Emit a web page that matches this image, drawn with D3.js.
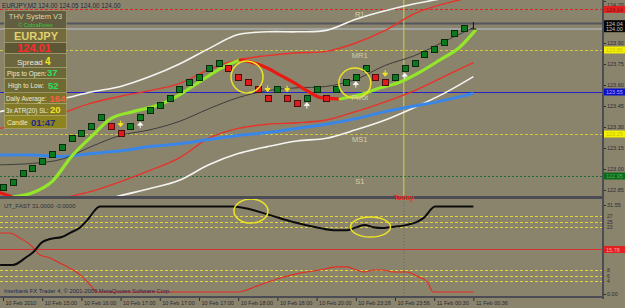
<!DOCTYPE html>
<html>
<head>
<meta charset="utf-8" />
<title>EURJPY,M2</title>
<style>
html, body {
    margin: 0;
    padding: 0;
    background: #8a846c;
}
#chart {
    width: 625px;
    height: 308px;
}
</style>
</head>
<body>
<div id="chart"></div>
<script src="https://d3js.org/d3.v7.min.js"></script>
<script>
// M2 candles shown as boxes: close price per bar, 1 = up (green), 0 = down (red)
var boxPrice = [122.87, 122.91, 122.97, 123.01, 123.06, 123.11, 123.16, 123.22, 123.26, 123.31,
                123.37, 123.31, 123.26, 123.31, 123.37, 123.42, 123.46, 123.51, 123.57, 123.62,
                123.66, 123.72, 123.76, 123.72, 123.66, 123.62, 123.57, 123.51, 123.57, 123.51,
                123.47, 123.51, 123.57, 123.51, 123.57, 123.62, 123.66, 123.72, 123.66, 123.62,
                123.66, 123.72, 123.76, 123.82, 123.86, 123.91, 123.97, 124.01]
var boxUp = [1,1,1,1,1,1,1,1,1,1, 1,0,0,1,1,1,1,1,1,1, 1,1,1,0,0,0,0,0,1,0,
             0,1,1,0,1,1,1,1,0,0, 1,1,1,1,1,1,1,1]
var downArrowBars = [12, 27, 29, 39]
var upArrowBars = [14, 31, 36, 41]

// bands and averages, sampled every 3 bars
var lineBars   = [-0.3, 3, 6, 9, 12, 15, 18, 21, 24, 27, 30, 33, 36, 39, 42, 45, 48]
var upperWhite = [123.41, 123.46, 123.50, 123.55, 123.59, 123.66, 123.75, 123.86, 123.96, 123.98, 123.98, 123.99, 124.07, 124.13, 124.18, 124.22, 124.26]
var upperRed   = [123.29, 123.34, 123.40, 123.47, 123.52, 123.56, 123.61, 123.71, 123.78, 123.81, 123.83, 123.84, 123.90, 123.99, 124.11, 124.18, 124.23]
var maLine     = [123.03, 123.04, 123.07, 123.16, 123.24, 123.28, 123.34, 123.43, 123.51, 123.56, 123.58, 123.59, 123.64, 123.74, 123.81, 123.91, 124.01]
var blueLine   = [123.10, 123.10, 123.09, 123.11, 123.13, 123.16, 123.18, 123.21, 123.24, 123.26, 123.29, 123.32, 123.36, 123.41, 123.45, 123.49, 123.54]
var lowerRed   = [122.67, 122.74, 122.79, 122.84, 122.91, 122.99, 123.08, 123.22, 123.29, 123.32, 123.33, 123.35, 123.41, 123.48, 123.56, 123.66, 123.76]
var lowerWhite = [122.49, 122.58, 122.66, 122.75, 122.81, 122.86, 122.92, 123.03, 123.11, 123.16, 123.20, 123.22, 123.28, 123.35, 123.44, 123.54, 123.66]

// signal line, green when rising and red when falling
var sigBars  = [-0.3, 1, 3, 5, 7, 9, 11, 13.3, 16, 18, 20, 22, 24.2, 25.5, 27, 28.3, 29.6, 31, 32.4, 34.4, 36.4, 38.5, 40.5, 42.5, 44.6, 46.6, 48.2]
var sigPrice = [122.83, 122.80, 122.83, 122.91, 123.09, 123.23, 123.36, 123.41, 123.46, 123.53, 123.62, 123.71, 123.78, 123.76, 123.72, 123.67, 123.62, 123.56, 123.51, 123.50, 123.53, 123.58, 123.62, 123.69, 123.78, 123.87, 123.99]

// pivot levels
var pivotNames  = ["R1", "MR1", "Pivot", "MS1", "S1"]
var pivotPrices = [124.14, 123.85, 123.55, 123.25, 122.95]
var askBid = [124.04, 124.00]
var lastCandle = [124.00, 124.05, 124.00, 124.00] // open high low close
var priceTicks = [124.20, 124.05, 123.90, 123.75, 123.60, 123.45, 123.30, 123.15, 123.00, 122.85]
var todayBar = 40.9

// UT_FAST sub window
var utBars = [-0.3, 1, 2.4, 3.1, 4, 4.8, 6, 6.8, 7.9, 8.6, 9.9, 23.5, 24.9, 27.2, 29.6, 32.3, 33.7, 35.1, 36.1, 36.9, 37.8, 38.7, 39.5, 41.2, 42.2, 42.9, 44.1, 48]
var utFast = [10.3, 10.3, 13.1, 14.9, 18.4, 19.5, 20.2, 21.6, 23.7, 26.2, 31, 31, 30.3, 28, 25.5, 23.4, 22.6, 22.6, 23.7, 24.5, 23.7, 23.4, 23.7, 24.5, 25.5, 26.9, 31, 31]
var utSlowBars = [-0.3, 0.7, 1.7, 2.8, 3.8, 4.8, 5.8, 6.8, 7.9, 8.9, 9.6, 23.9, 26.2, 28.3, 30.3, 32.3, 34.1, 35.1, 36.1, 36.9, 37.8, 38.8, 39.8, 41.2, 42.2, 43.3, 43.9, 48]
var utSlow = [21.6, 21.6, 19.9, 17.4, 13.8, 12.8, 11.0, 9.2, 6.7, 3.2, 0.7, 0.7, 3.2, 5.7, 7.4, 8.5, 9.6, 9.6, 8.5, 7.8, 8.5, 8.5, 7.8, 7.8, 6.4, 4.3, 0.7, 0.7]
var utLevels = [27.5, 25.5, 23.75, 8.5, 6.5, 4.5]
var utLevelLabels = ["27", "25", "23", "8", "6", "4"]
var utMid = 15.78
var utMax = 31.55

// time axis
var timeBars = [0, 4, 8, 12, 16, 20, 24, 28, 32, 36, 40, 44, 48]
var timeLabels = ["10 Feb 2010", "10 Feb 15:00", "10 Feb 16:00", "10 Feb 17:00", "10 Feb 17:00", "10 Feb 17:00",
                  "10 Feb 18:00", "10 Feb 18:00", "10 Feb 20:00", "10 Feb 23:28", "10 Feb 23:56", "11 Feb 00:30", "11 Feb 00:36"]

// info box
var infoNames  = ["Spread", "Pips to Open:", "High to Low:", "Daily Average:", "3x ATR(20) SL:", "Candle"]
var infoValues = ["4", "37", "52", "164", "20", "01:47"]
var symbol = "EURJPY"
var bidPrice = "124.01"

!(function(){
    "use strict"

    var FONT = "'Liberation Sans', Arial, sans-serif"
    var width = 625, height = 308
    var svg = d3.select("#chart").append("svg")
        .attr("width", width).attr("height", height)
        .style("font-family", FONT)

    var x = d3.scaleLinear().domain([0, 47]).range([3, 463.6])
    var y = d3.scaleLinear().domain([122.85, 123.90]).range([190, 43])
    var yInd = d3.scaleLinear().domain([0, utMax]).range([294, 205])

    svg.append("rect").attr("width", width).attr("height", height).attr("fill", "#8a846c")

    var defs = svg.append("defs")
    defs.append("clipPath").attr("id", "clipMain").append("rect")
        .attr("x", 0).attr("y", 0).attr("width", 602).attr("height", 196)
    defs.append("clipPath").attr("id", "clipSub").append("rect")
        .attr("x", 0).attr("y", 199).attr("width", 602).attr("height", 97)

    var main = svg.append("g").attr("clip-path", "url(#clipMain)")
    var sub = svg.append("g").attr("clip-path", "url(#clipSub)")

    // pivot and price lines
    var pivotStyle = [
        {stroke: "#e02424", dash: "3,2", w: 1},
        {stroke: "#d4c83c", dash: "3,2", w: 1},
        {stroke: "#2424c8", dash: null, w: 1},
        {stroke: "#d4c83c", dash: "3,2", w: 1},
        {stroke: "#1a6a3a", dash: "2,2", w: 1}
    ]
    pivotPrices.forEach(function(p, i) {
        main.append("line")
            .attr("x1", 0).attr("x2", 602)
            .attr("y1", Math.round(y(p)) + 0.5).attr("y2", Math.round(y(p)) + 0.5)
            .attr("stroke", pivotStyle[i].stroke)
            .attr("stroke-width", pivotStyle[i].w)
            .attr("stroke-dasharray", pivotStyle[i].dash)
    })
    main.append("line")
        .attr("x1", 0).attr("x2", 602)
        .attr("y1", y(askBid[0])).attr("y2", y(askBid[0]))
        .attr("stroke", "#55555e").attr("stroke-width", 2)
    main.append("line")
        .attr("x1", 0).attr("x2", 602)
        .attr("y1", y(askBid[1])).attr("y2", y(askBid[1]))
        .attr("stroke", "#b8c2d6").attr("stroke-width", 1)

    // today separator
    main.append("line")
        .attr("x1", x(todayBar)).attr("x2", x(todayBar))
        .attr("y1", 0).attr("y2", 196)
        .attr("stroke", "#d8d040").attr("stroke-width", 1)

    var band = d3.line()
        .x(function(d) { return x(d[0]) })
        .y(function(d) { return y(d[1]) })
        .curve(d3.curveCatmullRom.alpha(0.5))

    function drawBand(values, color, w) {
        main.append("path")
            .datum(d3.zip(lineBars, values))
            .attr("d", band)
            .attr("fill", "none")
            .attr("stroke", color)
            .attr("stroke-width", w)
    }
    drawBand(upperWhite, "#f4f4f0", 1.6)
    drawBand(lowerWhite, "#f4f4f0", 1.6)
    drawBand(upperRed, "#e8322a", 1.4)
    drawBand(lowerRed, "#e8322a", 1.4)
    drawBand(blueLine, "#3a86e8", 3)
    drawBand(maLine, "#3c3c3c", 1)

    // signal line split in rising / falling runs
    var sig = d3.zip(sigBars, sigPrice)
    var runs = []
    for (var i = 0; i < sig.length - 1; i++) {
        var up = sig[i + 1][1] >= sig[i][1]
        if (!runs.length || runs[runs.length - 1].up !== up) {
            runs.push({up: up, pts: [sig[i]]})
        }
        runs[runs.length - 1].pts.push(sig[i + 1])
    }
    var sigLine = d3.line()
        .x(function(d) { return x(d[0]) })
        .y(function(d) { return y(d[1]) })
        .curve(d3.curveMonotoneX)
    runs.forEach(function(r) {
        main.append("path")
            .datum(r.pts)
            .attr("d", sigLine)
            .attr("fill", "none")
            .attr("stroke", r.up ? "#94e62a" : "#e81a14")
            .attr("stroke-width", 3.2)
            .attr("stroke-linecap", "round")
    })

    // candle boxes
    main.append("g").selectAll("rect")
        .data(boxPrice)
        .enter().append("rect")
        .attr("x", function(d, i) { return Math.round(x(i)) - 3 + 0.5 })
        .attr("y", function(d) { return Math.round(y(d)) - 3 + 0.5 })
        .attr("width", 6).attr("height", 6)
        .attr("fill", function(d, i) { return boxUp[i] ? "#0b7a1e" : "#e41a1a" })
        .attr("stroke", function(d, i) { return boxUp[i] ? "#0a2a0e" : "#4a1010" })
        .attr("stroke-width", 1)

    // current candle
    main.append("line")
        .attr("x1", x(48)).attr("x2", x(48))
        .attr("y1", y(lastCandle[1])).attr("y2", y(lastCandle[2]))
        .attr("stroke", "#111").attr("stroke-width", 1)
    main.append("line")
        .attr("x1", x(48) - 3).attr("x2", x(48) + 3)
        .attr("y1", y(lastCandle[3])).attr("y2", y(lastCandle[3]))
        .attr("stroke", "#111").attr("stroke-width", 1)

    // signal arrows
    downArrowBars.forEach(function(b) {
        var cx = x(b), cy = y(boxPrice[b]) - 9
        main.append("path")
            .attr("d", "M" + cx + "," + (cy - 3) + "V" + (cy + 1) + "M" + (cx - 2.5) + "," + cy + "L" + (cx + 2.5) + "," + cy + "L" + cx + "," + (cy + 3) + "Z")
            .attr("fill", "#f2e424").attr("stroke", "#f2e424").attr("stroke-width", 1)
    })
    upArrowBars.forEach(function(b) {
        var cx = x(b), cy = y(boxPrice[b]) + 8
        main.append("path")
            .attr("d", "M" + cx + "," + (cy + 3) + "V" + (cy - 1) + "M" + (cx - 2.5) + "," + cy + "L" + (cx + 2.5) + "," + cy + "L" + cx + "," + (cy - 3) + "Z")
            .attr("fill", "#f4f4f4").attr("stroke", "#f4f4f4").attr("stroke-width", 1)
    })

    // highlight circles
    main.append("ellipse").attr("cx", x(24.9)).attr("cy", y(123.657)).attr("rx", 16).attr("ry", 16)
        .attr("fill", "none").attr("stroke", "#ece424").attr("stroke-width", 1.5)
    main.append("ellipse").attr("cx", x(35.9)).attr("cy", y(123.614)).attr("rx", 16).attr("ry", 15)
        .attr("fill", "none").attr("stroke", "#ece424").attr("stroke-width", 1.5)

    // pivot labels
    pivotPrices.forEach(function(p, i) {
        main.append("text")
            .attr("x", x(36.4)).attr("y", y(p) + 8)
            .attr("text-anchor", "middle")
            .attr("font-size", 7.5)
            .attr("fill", "#d8d0a6")
            .text(pivotNames[i])
    })

    // title
    svg.append("text").attr("x", 2).attr("y", 8)
        .attr("font-size", 6.3).attr("fill", "#262838")
        .text(symbol + ",M2 " + lastCandle.map(d3.format(".2f")).join(" "))

    // info box
    var rows = [[10, 28, "#625c40"], [28, 42, "#736b3d"], [42, 53, "#5e5736"], [53, 67, "#6d6740"],
                [67, 78, "#6b6838"], [78, 92, "#6f6a32"], [92, 103, "#7b7229"], [103, 115, "#82792a"], [115, 128, "#8d8420"]]
    var info = svg.append("g")
    info.selectAll("rect").data(rows).enter().append("rect")
        .attr("x", 4.5).attr("y", function(d) { return d[0] + 0.5 })
        .attr("width", 62).attr("height", function(d) { return d[1] - d[0] })
        .attr("fill", function(d) { return d[2] })
        .attr("stroke", "rgba(210,200,150,0.35)").attr("stroke-width", 1)
    info.append("text").attr("x", 35.5).attr("y", 19).attr("text-anchor", "middle")
        .attr("font-size", 7.5).attr("fill", "#ddd5a5").text("THV System V3")
    info.append("text").attr("x", 35.5).attr("y", 26.5).attr("text-anchor", "middle")
        .attr("font-size", 5.5).attr("fill", "#3cc83c").text("\u00a9 CobraForex")
    info.append("text").attr("x", 36).attr("y", 40).attr("text-anchor", "middle")
        .attr("font-size", 11).attr("font-weight", "bold").attr("fill", "#e2d170").text(symbol)
    info.append("text").attr("x", 34).attr("y", 52).attr("text-anchor", "middle")
        .attr("font-size", 11).attr("font-weight", "bold").attr("fill", "#ff2a2a").text(bidPrice)

    var infoY = [64.5, 75.5, 88, 101, 112.5, 125]
    var infoNameX = [17, 7, 8, 6, 6, 7]
    var infoNameSize = [8, 6.5, 6.5, 6.3, 6.3, 6.5]
    var infoValX = [45, 47, 48, 49.5, 50, 31]
    var infoValColor = ["#f4e41c", "#28e060", "#28e060", "#f2604a", "#f0e020", "#1c2a8a"]
    infoNames.forEach(function(n, i) {
        info.append("text").attr("x", infoNameX[i]).attr("y", infoY[i])
            .attr("font-size", infoNameSize[i]).attr("fill", "#ece8d6").text(n)
        info.append("text").attr("x", infoValX[i]).attr("y", infoY[i] + 0.5)
            .attr("font-size", i === 0 ? 10 : 9.5).attr("font-weight", "bold")
            .attr("fill", infoValColor[i]).text(infoValues[i])
    })

    // sub window
    utLevels.forEach(function(v) {
        sub.append("line")
            .attr("x1", 0).attr("x2", 602)
            .attr("y1", Math.round(yInd(v)) + 0.5).attr("y2", Math.round(yInd(v)) + 0.5)
            .attr("stroke", "#e0d43c").attr("stroke-dasharray", "3,2").attr("stroke-width", 1)
    })
    sub.append("line")
        .attr("x1", 0).attr("x2", 602)
        .attr("y1", Math.round(yInd(utMid)) + 0.5).attr("y2", Math.round(yInd(utMid)) + 0.5)
        .attr("stroke", "#d8302a").attr("stroke-width", 1)
    sub.append("line")
        .attr("x1", x(todayBar)).attr("x2", x(todayBar))
        .attr("y1", 199).attr("y2", 297)
        .attr("stroke", "#6a6a6a").attr("stroke-dasharray", "1,2").attr("stroke-width", 1)

    var indLine = d3.line()
        .x(function(d) { return x(d[0]) })
        .y(function(d) { return yInd(d[1]) })
        .curve(d3.curveMonotoneX)
    sub.append("path")
        .datum(d3.zip(utSlowBars, utSlow))
        .attr("d", indLine).attr("fill", "none")
        .attr("stroke", "#e62a22").attr("stroke-width", 1.1)
    sub.append("path")
        .datum(d3.zip(utBars, utFast))
        .attr("d", indLine).attr("fill", "none")
        .attr("stroke", "#0c0c0c").attr("stroke-width", 2)

    sub.append("ellipse").attr("cx", x(25.3)).attr("cy", yInd(29.4)).attr("rx", 17).attr("ry", 12)
        .attr("fill", "none").attr("stroke", "#ece424").attr("stroke-width", 1.5)
    sub.append("ellipse").attr("cx", x(37.5)).attr("cy", yInd(23.75)).attr("rx", 20).attr("ry", 10)
        .attr("fill", "none").attr("stroke", "#ece424").attr("stroke-width", 1.5)

    svg.append("text").attr("x", 4).attr("y", 208)
        .attr("font-size", 6).attr("fill", "#30303a")
        .text("UT_FAST " + d3.format(".4f")(31) + " -0.0000")
    svg.append("text").attr("x", 4).attr("y", 293)
        .attr("font-size", 5.8).attr("fill", "#1e2650")
        .text("Interbank FX Trader 4, \u00a9 2001-2009 MetaQuotes Software Corp.")

    // frame
    svg.append("rect").attr("x", 0).attr("y", 196).attr("width", 604).attr("height", 3).attr("fill", "#4c4c54")
    svg.append("rect").attr("x", 602).attr("y", 0).attr("width", 2).attr("height", 299).attr("fill", "#4c4c54")
    svg.append("rect").attr("x", 0).attr("y", 296).attr("width", 604).attr("height", 2).attr("fill", "#4c4c54")

    svg.append("text").attr("x", x(todayBar)).attr("y", 199.5)
        .attr("text-anchor", "middle").attr("font-size", 7).attr("font-weight", "bold")
        .attr("fill", "#ff2424").text("Today")

    // price axis
    var pAxis = svg.append("g").attr("transform", "translate(604,0)")
        .call(d3.axisRight(y).tickValues(priceTicks).tickSize(2).tickPadding(1).tickFormat(d3.format(".2f")))
    pAxis.select(".domain").remove()
    pAxis.attr("font-family", FONT)
    pAxis.selectAll("text").attr("font-size", 5.5).attr("fill", "#2a2a34")
        .attr("dy", function(d) { return y(d) < 4 ? "1.0em" : "0.32em" })
    pAxis.selectAll("line").attr("stroke", "#2a2a34")

    function priceBox(yc, h, fill, color, lines) {
        svg.append("rect").attr("x", 604).attr("y", yc - h / 2).attr("width", 21).attr("height", h).attr("fill", fill)
        lines.forEach(function(t, k) {
            svg.append("text").attr("x", 606).attr("y", yc - h / 2 + 5.6 + k * 5.6)
                .attr("font-size", 5.5).attr("fill", color).text(t)
        })
    }
    var boxFill = ["#e22020", "#f4f000", "#0c10c8", "#f4f000", "#0a6a18"]
    var boxText = ["#8a1010", "#c8c400", "#a8a8ff", "#c8c400", "#50b060"]
    pivotPrices.forEach(function(p, i) {
        priceBox(y(p), 7, boxFill[i], boxText[i], [d3.format(".2f")(p)])
    })
    priceBox((y(askBid[0]) + y(askBid[1])) / 2, 12, "#050505", "#c8c8c8", askBid.map(d3.format(".2f")))

    // sub window scale
    var iAxis = svg.append("g").attr("transform", "translate(604,0)")
        .call(d3.axisRight(yInd).tickValues([utMax, 0]).tickSize(2).tickPadding(1).tickFormat(d3.format(".2f")))
    iAxis.select(".domain").remove()
    iAxis.attr("font-family", FONT)
    iAxis.selectAll("text").attr("font-size", 5.5).attr("fill", "#2a2a34")
    iAxis.selectAll("line").attr("stroke", "#2a2a34")
    utLevels.forEach(function(v, i) {
        svg.append("text").attr("x", 607).attr("y", yInd(v) + 2)
            .attr("font-size", 5).attr("fill", "#2a2a34").text(utLevelLabels[i])
    })
    priceBox(yInd(utMid), 7, "#e22020", "#f0a0a0", [d3.format(".2f")(utMid)])

    // time axis
    var tAxis = svg.append("g").attr("transform", "translate(0,298)")
        .call(d3.axisBottom(x).tickValues(timeBars).tickSize(3).tickFormat(function(d, i) { return timeLabels[i] }))
    tAxis.select(".domain").remove()
    tAxis.attr("font-family", FONT)
    tAxis.selectAll("text").attr("text-anchor", "start").attr("x", 2).attr("y", 3)
        .attr("font-size", 5.5).attr("fill", "#2a2a34")
    tAxis.selectAll("line").attr("stroke", "#2a2a34")
}());
</script>
</body>
</html>
